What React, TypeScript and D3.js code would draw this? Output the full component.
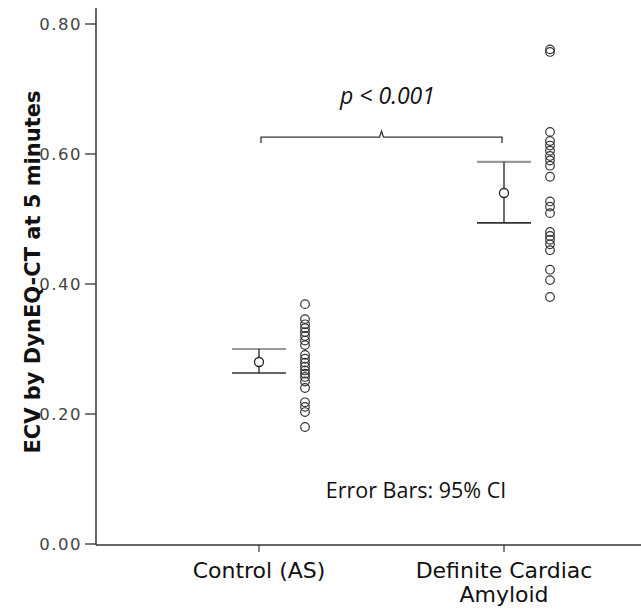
import React from "react";
import * as d3 from "d3";

const categories = ["Control (AS)", "Definite Cardiac Amyloid"];
const categoryLines = [["Control (AS)"], ["Definite Cardiac", "Amyloid"]];
const means = [0.28, 0.54];
const ciLower = [0.263, 0.494];
const ciUpper = [0.3, 0.588];
const controlValues = [0.369, 0.346, 0.338, 0.332, 0.326, 0.32, 0.313, 0.306, 0.291, 0.285, 0.279, 0.273, 0.267, 0.262, 0.257, 0.25, 0.24, 0.218, 0.211, 0.203, 0.18];
const amyloidValues = [0.761, 0.757, 0.634, 0.62, 0.613, 0.605, 0.597, 0.59, 0.582, 0.565, 0.527, 0.519, 0.509, 0.48, 0.474, 0.468, 0.461, 0.452, 0.422, 0.406, 0.38];
const seriesValues = [controlValues, amyloidValues];
const yTicks = [0, 0.2, 0.4, 0.6, 0.8];
const bracketValue = 0.626;

const W = 641;
const H = 609;

export default function App() {
  const y = d3.scaleLinear().domain([0, 0.8]).range([544, 24]);
  const x = d3.scalePoint<string>().domain(categories).range([259, 504]);
  const axisX = 96;
  const axisY = y(0);
  const dotOffset = 46;
  const capHalf = 27;
  const by = y(bracketValue);
  const bl = x(categories[0])! + 2;
  const br = x(categories[1])! - 2;
  const bm = (bl + br) / 2;
  const bracketPath = `M${bl},${by + 6} L${bl},${by} L${bm - 2},${by} L${bm},${by - 6} L${bm + 2},${by} L${br},${by} L${br},${by + 6}`;
  return (
    <div style={{ position: "fixed", left: 0, top: 0 }}>
      <svg width={W} height={H} style={{ display: "block", background: "#fff" }}>
        {/* y axis */}
        <line x1={axisX} x2={axisX} y1={8} y2={axisY + 1} stroke="#333" strokeWidth={1.5} />
        {yTicks.map((t) => (
          <g key={t}>
            <line x1={axisX - 11} x2={axisX} y1={y(t)} y2={y(t)} stroke="#333" strokeWidth={1.3} />
            <text x={axisX - 14} y={y(t)} dy="0.36em" textAnchor="end" fontFamily="DejaVu Sans" fontSize={16.5} fill="#444" letterSpacing={1.5}>
              {t.toFixed(2)}
            </text>
          </g>
        ))}
        {/* x axis */}
        <line x1={axisX} x2={W} y1={axisY + 1} y2={axisY + 1} stroke="#333" strokeWidth={1.5} />
        {categories.map((c, i) => (
          <g key={c}>
            <line x1={x(c)!} x2={x(c)!} y1={axisY + 1} y2={axisY + 8} stroke="#333" strokeWidth={1.2} />
            {categoryLines[i].map((ln, j) => (
              <text key={ln} x={x(c)!} y={578 + j * 24} textAnchor="middle" fontFamily="DejaVu Sans" fontSize={22} fill="#111">
                {ln}
              </text>
            ))}
          </g>
        ))}
        {/* axis title */}
        <text transform={`translate(40,${272}) rotate(-90)`} textAnchor="middle" fontFamily="DejaVu Sans" fontWeight="bold" fontSize={21} fill="#111">
          ECV by DynEQ-CT at 5 minutes
        </text>
        {/* error bars */}
        {categories.map((c, i) => (
          <g key={"eb" + c}>
            <line x1={x(c)! - capHalf} x2={x(c)! + capHalf} y1={y(ciUpper[i])} y2={y(ciUpper[i])} stroke="#999" strokeWidth={2.2} />
            <line x1={x(c)! - capHalf} x2={x(c)! + capHalf} y1={y(ciLower[i])} y2={y(ciLower[i])} stroke="#333" strokeWidth={1.6} />
            <line x1={x(c)!} x2={x(c)!} y1={y(ciUpper[i])} y2={y(ciLower[i])} stroke="#222" strokeWidth={1.3} />
            <circle cx={x(c)!} cy={y(means[i])} r={4.5} fill="#fff" stroke="#222" strokeWidth={1.3} />
          </g>
        ))}
        {/* points */}
        {seriesValues.map((vals, i) =>
          vals.map((v, k) => (
            <circle key={i + "-" + k} cx={x(categories[i])! + dotOffset} cy={y(v)} r={4.3} fill="none" stroke="#333" strokeWidth={1.2} />
          ))
        )}
        {/* bracket */}
        <path d={bracketPath} fill="none" stroke="#333" strokeWidth={1.3} />
        <text x={bm + 6} y={104} textAnchor="middle" fontFamily="Open Sans" fontStyle="italic" fontSize={23} fill="#111">
          p &lt; 0.001
        </text>
        <text x={416} y={498} textAnchor="middle" fontFamily="Open Sans" fontSize={21.5} fill="#111">
          Error Bars: 95% CI
        </text>
      </svg>
    </div>
  );
}
